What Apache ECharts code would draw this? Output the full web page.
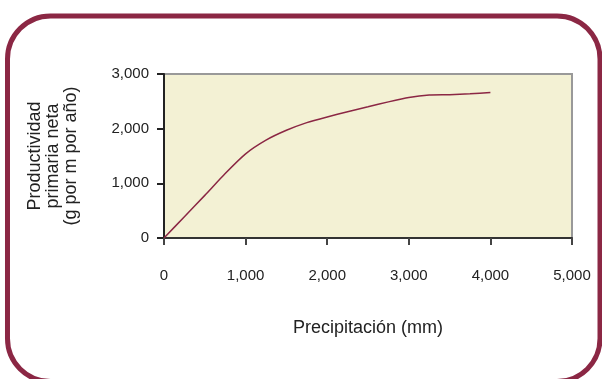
<!DOCTYPE html>
<html>
<head>
<meta charset="utf-8">
<script src="https://cdn.jsdelivr.net/npm/echarts@6/dist/echarts.min.js"></script>
<style>
html,body{margin:0;padding:0;background:#fff;}
#c{width:602px;height:379px;}
</style>
</head>
<body>
<div id="c"></div>
<script>
var precipitation = [0, 250, 500, 750, 1000, 1250, 1500, 1750, 2000, 2250, 2500, 2750, 3000, 3250, 3500, 3750, 4000];
var productivity  = [0, 390, 780, 1180, 1540, 1790, 1970, 2110, 2215, 2310, 2400, 2490, 2570, 2615, 2622, 2640, 2660];
var xTicks = [0, 1000, 2000, 3000, 4000, 5000];
var yTicks = [0, 1000, 2000, 3000];
var xTitle = 'Precipitación (mm)';
var yTitle = 'Productividad\nprimaria neta\n(g por m por año)';

var fmt = function (v) { return v.toLocaleString('en-US'); };
var chart = echarts.init(document.getElementById('c'), null, {renderer: 'canvas'});
var font = '"Liberation Sans", Arial, sans-serif';
chart.setOption({
  animation: false,
  backgroundColor: '#ffffff',
  textStyle: {fontFamily: font},
  grid: {
    left: 164, top: 74, right: 30, bottom: 141,
    show: true, backgroundColor: '#F3F1D4', borderColor: '#999999', borderWidth: 2
  },
  graphic: [{
    type: 'rect', silent: true, z: 100,
    shape: {x: 7.5, y: 16, width: 592.5, height: 365.5, r: 43},
    style: {fill: 'none', stroke: '#8B2744', lineWidth: 5}
  }],
  xAxis: {
    type: 'value', min: xTicks[0], max: xTicks[xTicks.length - 1], interval: 1000,
    name: xTitle, nameLocation: 'middle', nameGap: 81,
    nameTextStyle: {fontSize: 18, color: '#222', fontFamily: font},
    axisLine: {show: true, onZero: false, lineStyle: {color: '#333', width: 2}},
    axisTick: {show: true, length: 7, lineStyle: {color: '#444', width: 2}},
    axisLabel: {margin: 30, fontSize: 15, color: '#222', formatter: fmt, fontFamily: font},
    splitLine: {show: false}
  },
  yAxis: {
    type: 'value', min: yTicks[0], max: yTicks[yTicks.length - 1], interval: 1000,
    name: yTitle, nameLocation: 'middle', nameGap: 84, nameRotate: 90,
    nameTextStyle: {fontSize: 18, color: '#222', lineHeight: 18, align: 'center', fontFamily: font},
    axisLine: {show: true, onZero: false, lineStyle: {color: '#222', width: 2}},
    axisTick: {show: true, length: 7, lineStyle: {color: '#222', width: 2}},
    axisLabel: {margin: 15, fontSize: 15, color: '#222', formatter: fmt, fontFamily: font},
    splitLine: {show: false}
  },
  series: [{
    type: 'line',
    data: precipitation.map(function (p, i) { return [p, productivity[i]]; }),
    showSymbol: false, smooth: 0.2,
    lineStyle: {color: '#8B2744', width: 1.5}
  }]
});
</script>
</body>
</html>
